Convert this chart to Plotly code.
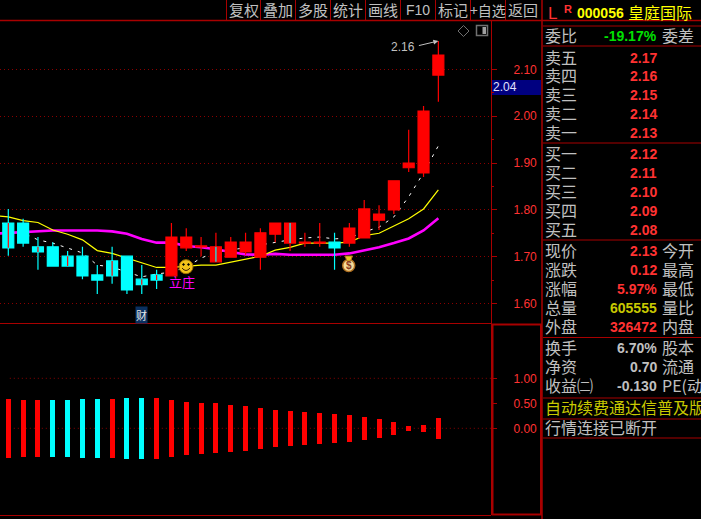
import plotly.graph_objects as go

W = 701
H = 519

# price panel
opens = [1.772, 1.772, 1.721, 1.721, 1.701, 1.701, 1.661, 1.691, 1.701, 1.652,
         1.661, 1.659, 1.719, 1.721, 1.689, 1.699, 1.710, 1.699, 1.748, 1.729,
         1.729, 1.729, 1.731, 1.729, 1.740, 1.778, 1.800, 1.890, 1.879, 2.088]
highs = [1.802, 1.781, 1.742, 1.731, 1.712, 1.721, 1.682, 1.721, 1.701, 1.682,
         1.672, 1.772, 1.761, 1.742, 1.751, 1.742, 1.751, 1.761, 1.772, 1.772,
         1.751, 1.772, 1.751, 1.772, 1.821, 1.810, 1.862, 1.971, 2.022, 2.161]
lows = [1.702, 1.721, 1.672, 1.680, 1.680, 1.652, 1.620, 1.642, 1.620, 1.620,
        1.631, 1.659, 1.712, 1.701, 1.689, 1.699, 1.704, 1.672, 1.731, 1.712,
        1.721, 1.721, 1.672, 1.721, 1.740, 1.757, 1.791, 1.881, 1.870, 2.031]
closes = [1.719, 1.729, 1.710, 1.680, 1.680, 1.659, 1.650, 1.659, 1.629, 1.640,
          1.650, 1.742, 1.742, 1.723, 1.721, 1.731, 1.731, 1.751, 1.772, 1.772,
          1.731, 1.731, 1.719, 1.761, 1.802, 1.791, 1.862, 1.900, 2.011, 2.131]
inner_red = [0, 2, 4, 7, 9, 10]
inner_cyan = [14, 19]

# the averages start one bar left of the first candle
line_x = list(range(-1, 30))
ma_white = [1.776, 1.768, 1.751, 1.736, 1.729, 1.719, 1.708, 1.682, 1.678, 1.667, 1.657,
            1.663, 1.667, 1.678, 1.697, 1.710, 1.714, 1.719, 1.725, 1.731, 1.736,
            1.740, 1.742, 1.738, 1.740, 1.753, 1.763, 1.785, 1.828, 1.879, 1.937]
ma_yellow = [1.788, 1.785, 1.777, 1.773, 1.757, 1.748, 1.736, 1.713, 1.707, 1.697, 1.688,
             1.677, 1.677, 1.680, 1.682, 1.682, 1.688, 1.694, 1.701, 1.714, 1.720,
             1.729, 1.729, 1.729, 1.731, 1.745, 1.750, 1.766, 1.781, 1.802, 1.843]
ma_magenta = [1.749, 1.751, 1.752, 1.754, 1.756, 1.756, 1.756, 1.756, 1.754, 1.749, 1.738,
              1.730, 1.730, 1.723, 1.720, 1.716, 1.710, 1.705, 1.704, 1.706, 1.704,
              1.704, 1.704, 1.704, 1.707, 1.714, 1.720, 1.729, 1.739, 1.756, 1.782]

# lower panel, bars sit symmetric round zero
osc_values = [0.59, 0.57, 0.57, 0.57, 0.57, 0.59, 0.59, 0.59, 0.61, 0.61,
              0.61, 0.57, 0.53, 0.51, 0.50, 0.47, 0.45, 0.41, 0.37, 0.35,
              0.33, 0.31, 0.29, 0.27, 0.23, 0.19, 0.13, 0.05, 0.07, 0.21]
osc_cyan = [3, 4, 5, 6, 8, 9]

price_ticks = [1.60, 1.70, 1.80, 1.90, 2.00, 2.10]
price_minor = [1.65, 1.75, 1.85, 1.95, 2.05]
osc_ticks = [0.00, 0.50, 1.00]
osc_grid = [0.00, 1.00]
cursor_price = "2.04"

toolbar = ["复权", "叠加", "多股", "统计", "画线", "F10", "标记", "+自选", "返回"]

sell_labels = ["卖五", "卖四", "卖三", "卖二", "卖一"]
sell_prices = ["2.17", "2.16", "2.15", "2.14", "2.13"]
buy_labels = ["买一", "买二", "买三", "买四", "买五"]
buy_prices = ["2.12", "2.11", "2.10", "2.09", "2.08"]
quote_labels = ["现价", "涨跌", "涨幅", "总量", "外盘"]
quote_values = ["2.13", "0.12", "5.97%", "605555", "326472"]
quote_right = ["今开", "最高", "最低", "量比", "内盘"]
fund_labels = ["换手", "净资", "收益㈡"]
fund_values = ["6.70%", "0.70", "-0.130"]
fund_right = ["股本", "流通", "PE(动)"]

FRAME = "#a80000"
GRID = "#8a0000"
RED = "#ff3232"
CYAN = "#00ffff"
GREY = "#c0c0c0"
OLIVE = "#c8c800"
CJK = "Noto Sans CJK SC"
NUM = "Liberation Sans"


def px(x):
    return x / W


def py(y):
    return 1 - y / H


def label(text, x, y, color=GREY, size=16, anchor="left", font=CJK, bold=False):
    if bold:
        text = f"<b>{text}</b>"
    return dict(text=text, x=px(x), y=py(y), xref="paper", yref="paper", xanchor=anchor,
                yanchor="middle", showarrow=False, font=dict(color=color, size=size, family=font))


def hline(y, x0, x1, width=1):
    return dict(type="line", xref="paper", yref="paper", x0=px(x0), x1=px(x1), y0=py(y), y1=py(y),
                line=dict(color=FRAME, width=width))


def vline(x, y0, y1, width=1):
    return dict(type="line", xref="paper", yref="paper", x0=px(x), x1=px(x), y0=py(y0), y1=py(y1),
                line=dict(color=FRAME, width=width))


def circle(cx, cy, r, fill, edge, width=1):
    return dict(type="circle", xref="paper", yref="paper", x0=px(cx - r), x1=px(cx + r),
                y0=py(cy + r), y1=py(cy - r), fillcolor=fill, line=dict(color=edge, width=width),
                layer="above")


fig = go.Figure()

# averages go on the base axes, candles on an overlay so they cover the lines
fig.add_trace(go.Scatter(x=line_x, y=ma_magenta, mode="lines", line=dict(color="#ff00ff", width=2.6)))
fig.add_trace(go.Scatter(x=line_x, y=ma_yellow, mode="lines", line=dict(color="#ffff00", width=1.2)))
fig.add_trace(go.Scatter(x=line_x, y=ma_white, mode="lines",
                         line=dict(color="#ffffff", width=1, dash="3px,6px")))

candle_x = list(range(len(opens)))
fig.add_trace(go.Candlestick(
    x=candle_x, open=opens, high=highs, low=lows, close=closes,
    increasing=dict(line=dict(color="#ff0000", width=1.2), fillcolor="#ff0000"),
    decreasing=dict(line=dict(color=CYAN, width=1.2), fillcolor=CYAN),
    whiskerwidth=0, xaxis="x3", yaxis="y3",
))

for idx_list, color in [(inner_red, "#ff0000"), (inner_cyan, CYAN)]:
    xs = []
    ys = []
    for i in idx_list:
        xs += [i, i, None]
        ys += [opens[i], closes[i], None]
    fig.add_trace(go.Scatter(x=xs, y=ys, mode="lines", line=dict(color=color, width=1.2),
                             xaxis="x3", yaxis="y3"))

fig.add_trace(go.Bar(
    x=candle_x,
    y=[2 * v for v in osc_values],
    base=[-v for v in osc_values],
    width=0.34,
    marker=dict(color=[CYAN if i in osc_cyan else "#ff0000" for i in candle_x], line_width=0),
    xaxis="x2", yaxis="y2",
))

x_range = [-0.56, 32.55]
price_range = [1.5583, 2.2036]
x_domain = [0, px(491)]
price_domain = [py(323), py(21)]

annotations = []

for name, x in zip(toolbar, [243.5, 278, 313, 348, 383, 418, 453, 488, 523]):
    if name == "F10":
        annotations.append(label(name, x, 9.5, size=14, anchor="center", font=NUM))
    elif name == "+自选":
        annotations.append(label(name, x, 9.5, size=14, anchor="center"))
    else:
        annotations.append(label(name, x, 9.5, size=15, anchor="center"))

# chart marks
annotations.append(dict(text="", x=29, y=max(highs), xref="x3", yref="y3", ax=-21, ay=5,
                        showarrow=True, arrowhead=2, arrowsize=1, arrowwidth=1, arrowcolor=GREY))
annotations.append(label(f"{max(highs):.2f}", 403, 47, size=12, anchor="center", font=NUM))
annotations.append(label("立庄", 182, 281, color="#ff00ff", size=13, anchor="center"))
annotations.append(dict(label("财", 141.5, 315, color="#e8e8e8", size=11, anchor="center"),
                        bgcolor="#0a3060", borderpad=0))
annotations.append(label("$", 348.7, 265, color="#8a3a20", size=10, anchor="center", font=NUM, bold=True))
annotations.append(label(cursor_price, 491, 87, color="#e0e0ff", size=12, font=NUM))

# quote panel
LEFT = 543
RIGHT = 660
VALUE = 659
annotations.append(label("L", 546, 13, color=RED, size=17, font=NUM))
annotations.append(label("R", 562, 9, color=RED, size=11, font=NUM, bold=True))
annotations.append(label("000056", 575, 13, color="#ffff00", size=14, font=NUM, bold=True))
annotations.append(label("皇庭国际", 626, 12, color="#ffff00", size=16))
annotations.append(label("委比", LEFT, 35))
annotations.append(label("-19.17%", VALUE, 36, color="#00e000", size=14, anchor="right", font=NUM, bold=True))
annotations.append(label("委差", RIGHT, 35))

for name, value, y in zip(sell_labels, sell_prices, [58, 76, 95, 114, 133]):
    annotations.append(label(name, LEFT, y - 1))
    annotations.append(label(value, VALUE, y, color=RED, size=14, anchor="right", font=NUM, bold=True))
for name, value, y in zip(buy_labels, buy_prices, [154, 173, 192, 211, 230]):
    annotations.append(label(name, LEFT, y - 1))
    annotations.append(label(value, VALUE, y, color=RED, size=14, anchor="right", font=NUM, bold=True))

quote_colors = [RED, RED, RED, OLIVE, RED]
for name, value, right, color, y in zip(quote_labels, quote_values, quote_right, quote_colors,
                                        [251, 270, 289, 308, 327]):
    annotations.append(label(name, LEFT, y - 1))
    annotations.append(label(value, VALUE, y, color=color, size=14, anchor="right", font=NUM, bold=True))
    annotations.append(label(right, RIGHT, y - 1))

for name, value, right, y in zip(fund_labels, fund_values, fund_right, [348, 367, 386]):
    annotations.append(label(name, LEFT, y - 1))
    annotations.append(label(value, VALUE, y, size=14, anchor="right", font=NUM, bold=True))
    annotations.append(label(right, RIGHT, y - 1))

annotations.append(label("自动续费通达信普及版", LEFT, 407, color=OLIVE))
annotations.append(label("行情连接已断开", LEFT, 427))

shapes = [
    hline(20.5, 0, 701, 1.5),
    hline(323.5, 0, 491),
    hline(515.5, 0, 491),
    vline(491.5, 20, 515),
    vline(542, 0, 519, 1.5),
    dict(type="rect", xref="paper", yref="paper", x0=px(492.5), x1=px(541), y0=py(514.5), y1=py(324.5),
         line=dict(color=FRAME, width=2)),
    dict(type="rect", xref="paper", yref="paper", x0=px(492), x1=px(541), y0=py(95), y1=py(80),
         fillcolor="#000080", line=dict(color="#000080", width=0), layer="below"),
]
for x in [226.5, 260.5, 295.5, 330.5, 365.5, 400.5, 435.5, 470.5, 505.5]:
    shapes.append(vline(x, 0, 20))
for y in [26, 46, 143, 240, 337.5, 398, 419, 438]:
    shapes.append(hline(y, 543, 701))

# the two small toolbar icons top right of the chart
shapes.append(dict(type="path", xref="paper", yref="paper", layer="above",
                   path=f"M {px(458)} {py(31)} L {px(463.5)} {py(25.5)} L {px(469)} {py(31)} L {px(463.5)} {py(36.5)} Z",
                   line=dict(color="#707070", width=1)))
shapes.append(dict(type="rect", xref="paper", yref="paper", layer="above",
                   x0=px(476.5), x1=px(487.5), y0=py(35.5), y1=py(25.5), line=dict(color="#707070", width=1.5)))
shapes.append(dict(type="rect", xref="paper", yref="paper", layer="above",
                   x0=px(482.5), x1=px(486), y0=py(34), y1=py(27), fillcolor="#a0a0a0", line_width=0))

# smiley
shapes.append(circle(186, 266.7, 7, "#f2c21a", "#a07000"))
shapes.append(circle(183.5, 264.5, 0.8, "#000000", "#000000"))
shapes.append(circle(188.5, 264.5, 0.8, "#000000", "#000000"))
shapes.append(dict(type="path", xref="paper", yref="paper", layer="above",
                   path=f"M {px(182)} {py(268)} Q {px(186)} {py(273)} {px(190)} {py(268)}",
                   line=dict(color="#402000", width=1)))

# money bag
shapes.append(circle(348.7, 265.5, 6, "#f4dc9a", "#b07020", 1.5))
shapes.append(dict(type="path", xref="paper", yref="paper", layer="above",
                   path=f"M {px(345)} {py(256)} L {px(352.5)} {py(256)} L {px(350.5)} {py(261)} L {px(347)} {py(261)} Z",
                   fillcolor="#e8c820", line=dict(color="#b07020", width=1)))

fig.update_layout(
    width=W,
    height=H,
    margin=dict(l=0, r=0, t=0, b=0),
    paper_bgcolor="#000000",
    plot_bgcolor="#000000",
    showlegend=False,
    boxgap=0.26,
    boxgroupgap=0,
    bargap=0,
    annotations=annotations,
    shapes=shapes,
    xaxis=dict(domain=x_domain, range=x_range, visible=False, fixedrange=True),
    xaxis2=dict(domain=x_domain, range=x_range, visible=False, anchor="y2"),
    xaxis3=dict(domain=x_domain, range=x_range, visible=False, overlaying="x", anchor="y3",
                rangeslider=dict(visible=False)),
    yaxis=dict(
        domain=price_domain, range=price_range, side="right", anchor="x",
        tickvals=price_ticks, ticktext=[f"{t:.2f}" for t in price_ticks],
        tickfont=dict(color=RED, size=12, family=NUM),
        ticks="outside", ticklen=5, tickcolor=FRAME, ticklabelstandoff=14,
        showgrid=True, gridcolor=GRID, griddash="1px,3px", gridwidth=1,
        zeroline=False, showline=False,
        minor=dict(tickvals=price_minor, ticks="outside", ticklen=2, tickcolor=FRAME, showgrid=False),
    ),
    yaxis2=dict(
        domain=[py(515), py(324)], range=[-1.734, 2.086], side="right", anchor="x2",
        tickvals=osc_ticks, ticktext=[f"{t:.2f}" for t in osc_ticks],
        tickfont=dict(color=RED, size=12, family=NUM),
        ticks="outside", ticklen=5, tickcolor=FRAME, ticklabelstandoff=14,
        showgrid=False, zeroline=False, showline=False,
    ),
    yaxis3=dict(domain=price_domain, range=price_range, overlaying="y", anchor="x3", visible=False),
)

# dotted guides of the lower panel, 0.50 has none
for v in osc_grid:
    fig.add_shape(type="line", xref="x2 domain", yref="y2", x0=0.02, x1=1, y0=v, y1=v, layer="below",
                  line=dict(color=GRID, width=1, dash="1px,3px"))

# page margin would push the 701 wide figure off the window
fig.write_html("out.html", config=dict(displayModeBar=False),
               post_script="document.body.style.margin='0';document.documentElement.style.overflow='hidden';")
